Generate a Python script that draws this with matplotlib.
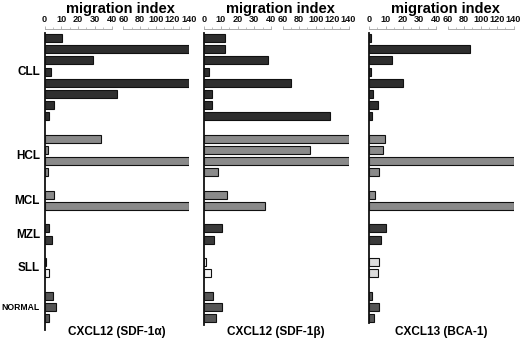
import numpy as np
import matplotlib
matplotlib.use("Agg")
import matplotlib.pyplot as plt

plt.rcParams['font.family'] = ['Liberation Sans', 'DejaVu Sans']

groups = ["CLL", "HCL", "MCL", "MZL", "SLL", "NORMAL"]
group_sizes = [8, 4, 2, 2, 2, 3]
group_colors = ["#2e2e2e", "#8a8a8a", "#8a8a8a", "#3a3a3a", "#eeeeee", "#555555"]

panel_titles = ["CXCL12 (SDF-1α)", "CXCL12 (SDF-1β)", "CXCL13 (BCA-1)"]

sdf1a = [10.5, 140, 29, 3.7, 140, 50, 5.7, 2.7,
         33.5, 2.3, 140, 1.9,
         5.9, 140,
         2.9, 4.5,
         1.1, 2.5,
         5.3, 6.9, 2.5]
sdf1b = [12.6, 12.6, 38, 3.2, 70, 4.6, 4.8, 117,
         140, 93, 140, 8.2,
         13.6, 36.5,
         10.6, 6.2,
         1.2, 4.0,
         5.4, 10.6, 7.4]
bca1 = [1.2, 87, 13.6, 1.0, 20.2, 2.2, 5.4, 2.0,
        9.8, 8.2, 140, 5.8,
        3.6, 140,
        10.0, 7.2,
        5.8, 5.4,
        1.8, 5.8, 2.8]
panels = [sdf1a, sdf1b, bca1]

major_ticks = [0, 10, 20, 30, 40, 60, 80, 100, 120, 140]
minor_ticks = [5, 15, 25, 35, 70, 90, 110, 130]

B1, B2, K = 40.0, 47.0, 0.49


def fwd(v):
    v = np.asarray(v, dtype=float)
    return np.where(v <= 40, v,
                    np.where(v < 60, B1 + (v - 40) * (B2 - B1) / 20, B2 + (v - 60) * K))


def inv(u):
    u = np.asarray(u, dtype=float)
    return np.where(u <= B1, u,
                    np.where(u < B2, 40 + (u - B1) * 20 / (B2 - B1), 60 + (u - B2) / K))


# slot positions (one blank slot between groups)
positions = []
slot = 0
for n in group_sizes:
    positions.extend(range(slot, slot + n))
    slot += n + 1
positions = np.array(positions)

W, H = 520, 339
fig = plt.figure(figsize=(W / 100, H / 100), dpi=100)

lefts = [44.5, 204, 369]
width_px = 144.5
top_px, bot_px = 29, 330
bottoms = [330, 325, 323]

for i, (vals, left) in enumerate(zip(panels, lefts)):
    ax = fig.add_axes([left / W, 1 - bot_px / H, width_px / W, (bot_px - top_px) / H])
    ax.set_xscale('function', functions=(fwd, inv))
    ax.set_xlim(0, 140)
    ax.set_ylim(25 + 1.07, -0.8)
    pc = []
    for k, n in enumerate(group_sizes):
        c = group_colors[k]
        if groups[k] == "SLL":
            c = "#f4f4f4" if i < 2 else "#dcdcdc"
        pc.extend([c] * n)
    ax.barh(positions, vals, height=0.72, color=pc, edgecolor="#111111", linewidth=0.8)

    for s in ['top', 'right', 'bottom']:
        ax.spines[s].set_visible(False)
    ax.spines['left'].set_linewidth(1.3)
    ax.spines['left'].set_color('#111111')
    y_lo = -0.8 + (33 - top_px) / 11.2
    y_hi = -0.8 + (bottoms[i] - top_px) / 11.2
    ax.spines['left'].set_bounds(y_lo, y_hi)
    ax.set_yticks([])

    ax.xaxis.tick_top()
    ax.set_xticks(major_ticks)
    ax.set_xticks(minor_ticks, minor=True)
    ax.set_xticklabels([str(t) for t in major_ticks], fontsize=6.6,
                       fontweight='bold', color='#111111')
    ax.tick_params(axis='x', which='major', length=2.5, width=0.6, color='#aaaaaa', pad=1.2)
    ax.tick_params(axis='x', which='minor', length=1.5, width=0.5, color='#aaaaaa')
    trans = ax.get_xaxis_transform()
    ax.plot([0, 40], [1, 1], transform=trans, color='#aaaaaa', lw=0.7, clip_on=False)
    ax.plot([60, 140], [1, 1], transform=trans, color='#aaaaaa', lw=0.7, clip_on=False)

    fig.text((left + width_px / 2 + 4) / W, 1 - 8.5 / H, "migration index",
             ha='center', va='center', fontsize=10.5, fontweight='bold')
    fig.text((left + width_px / 2) / W, 1 - 332 / H, panel_titles[i],
             ha='center', va='center', fontsize=8.5, fontweight='bold')

for g, yc in zip(groups, [72, 156, 201, 234.5, 268, 307]):
    fs = 6.2 if g == "NORMAL" else 8.5
    fig.text(40 / W, 1 - yc / H, g, ha='right', va='center', fontsize=fs, fontweight='bold')

fig.savefig("out.png", dpi=100)
